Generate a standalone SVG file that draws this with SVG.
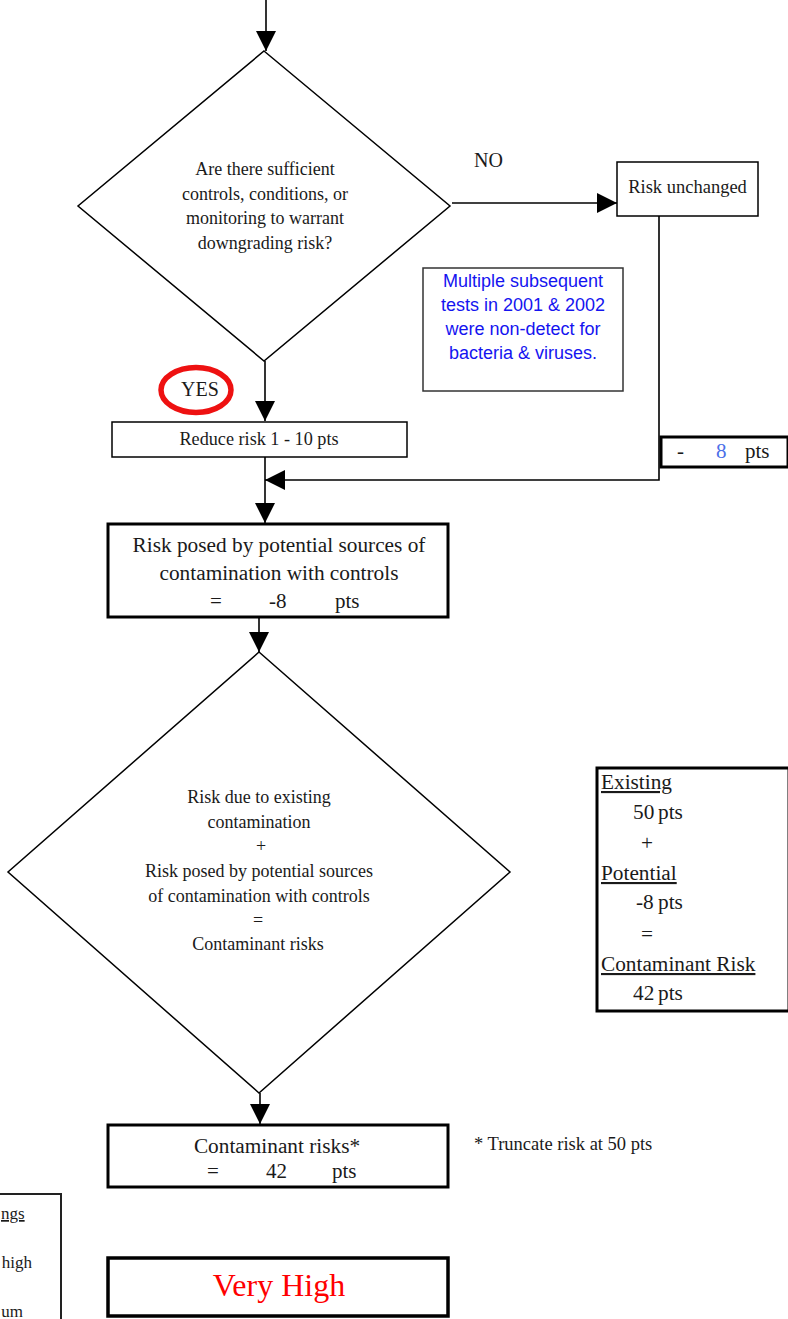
<svg xmlns="http://www.w3.org/2000/svg" width="788" height="1319" viewBox="0 0 788 1319">
<defs>
<marker id="arr" markerUnits="userSpaceOnUse" markerWidth="20" markerHeight="20" refX="20" refY="10" orient="auto" viewBox="0 0 20 20">
<path d="M0,0 L20,10 L0,20 z" fill="#000"/>
</marker>
<style>
.t{font-family:"Liberation Serif","Times New Roman",serif;fill:#1a1a1a}
.s{font-family:"Liberation Sans",Arial,sans-serif;fill:#1414f0}
.thin{fill:#fff;stroke:#000;stroke-width:1.5}
.thick{fill:#fff;stroke:#000;stroke-width:3}
.c{fill:none;stroke:#000;stroke-width:1.6}
.ul{text-decoration:underline}
</style>
</defs>
<rect width="788" height="1319" fill="#fff"/>

<g id="connectors">
<line class="c" x1="266" y1="0" x2="266" y2="51" marker-end="url(#arr)"/>
<line class="c" x1="452" y1="203" x2="617" y2="203" marker-end="url(#arr)"/>
<line class="c" x1="265" y1="361" x2="265" y2="421" marker-end="url(#arr)"/>
<line class="c" x1="265" y1="457" x2="265" y2="523" marker-end="url(#arr)"/>
<polyline class="c" points="659,216 659,480 265,480" marker-end="url(#arr)"/>
<line class="c" x1="259" y1="618" x2="259" y2="652" marker-end="url(#arr)"/>
<line class="c" x1="260" y1="1093" x2="260" y2="1124" marker-end="url(#arr)"/>
</g>

<g id="decision1">
<polygon class="thin" points="264,51 450,206 264,361 78,206"/>
<text class="t" font-size="18" text-anchor="middle" x="265" y="175">Are there sufficient</text>
<text class="t" font-size="18" text-anchor="middle" x="265" y="199.5">controls, conditions, or</text>
<text class="t" font-size="18" text-anchor="middle" x="265" y="224">monitoring to warrant</text>
<text class="t" font-size="18" text-anchor="middle" x="265" y="248.5">downgrading risk?</text>
</g>

<g id="label-no">
<text class="t" font-size="20" x="474" y="167">NO</text>
</g>

<g id="risk-unchanged">
<rect class="thin" x="617" y="162" width="141" height="54"/>
<text class="t" font-size="18.5" text-anchor="middle" x="687.5" y="193">Risk unchanged</text>
</g>

<g id="note">
<rect fill="#fff" stroke="#333" stroke-width="1.5" x="423" y="268" width="200" height="123"/>
<text class="s" font-size="18" text-anchor="middle" x="523" y="287">Multiple subsequent</text>
<text class="s" font-size="18" text-anchor="middle" x="523" y="311">tests in 2001 &amp; 2002</text>
<text class="s" font-size="18" text-anchor="middle" x="523" y="335">were non-detect for</text>
<text class="s" font-size="18" text-anchor="middle" x="523" y="359">bacteria &amp; viruses.</text>
</g>

<g id="label-yes">
<ellipse cx="196" cy="390" rx="35" ry="22.5" fill="none" stroke="#ee1111" stroke-width="5.5"/>
<text class="t" font-size="20" text-anchor="middle" x="200" y="396">YES</text>
</g>

<g id="reduce">
<rect class="thin" x="112" y="422" width="295" height="35"/>
<text class="t" font-size="18.2" text-anchor="middle" x="259" y="445">Reduce risk 1 - 10 pts</text>
</g>

<g id="minus8">
<rect class="thick" x="661" y="437" width="127" height="30"/>
<text class="t" font-size="21" x="677" y="458">-</text>
<text class="t" font-size="21" x="716" y="458" style="fill:#4b6fe8">8</text>
<text class="t" font-size="21" x="745" y="458">pts</text>
</g>

<g id="potential-box">
<rect class="thick" x="108" y="524" width="340" height="93"/>
<text class="t" font-size="21.3" text-anchor="middle" x="279" y="552">Risk posed by potential sources of</text>
<text class="t" font-size="21.3" text-anchor="middle" x="279" y="580">contamination with controls</text>
<text class="t" font-size="21" x="210" y="608">=</text>
<text class="t" font-size="21" x="269" y="608">-8</text>
<text class="t" font-size="21" x="335" y="608">pts</text>
</g>

<g id="decision2">
<polygon class="thin" points="259,652 510,872 259,1093 8,872"/>
<text class="t" font-size="18" text-anchor="middle" x="259" y="803">Risk due to existing</text>
<text class="t" font-size="18" text-anchor="middle" x="259" y="827.5">contamination</text>
<text class="t" font-size="18" text-anchor="middle" x="261" y="852">+</text>
<text class="t" font-size="18" text-anchor="middle" x="259" y="877">Risk posed by potential sources</text>
<text class="t" font-size="18" text-anchor="middle" x="259" y="901.5">of contamination with controls</text>
<text class="t" font-size="18" text-anchor="middle" x="258" y="925.5">=</text>
<text class="t" font-size="18" text-anchor="middle" x="258" y="950">Contaminant risks</text>
</g>

<g id="summary">
<rect class="thick" x="597" y="768" width="192" height="243"/>
<text class="t ul" font-size="21.3" x="601" y="789">Existing</text>
<text class="t" font-size="21.3" x="633" y="819">50</text>
<text class="t" font-size="21.3" x="658" y="819">pts</text>
<text class="t" font-size="21.3" x="641" y="850">+</text>
<text class="t ul" font-size="21.3" x="601" y="880">Potential</text>
<text class="t" font-size="21.3" x="636" y="909">-8</text>
<text class="t" font-size="21.3" x="658" y="909">pts</text>
<text class="t" font-size="21.3" x="641" y="941">=</text>
<text class="t ul" font-size="21.3" x="601" y="971">Contaminant Risk</text>
<text class="t" font-size="21.3" x="633" y="1000">42</text>
<text class="t" font-size="21.3" x="658" y="1000">pts</text>
</g>

<g id="contaminant-risks">
<rect class="thick" x="108" y="1125" width="340" height="62"/>
<text class="t" font-size="21.3" text-anchor="middle" x="277" y="1153">Contaminant risks*</text>
<text class="t" font-size="21" x="207" y="1178">=</text>
<text class="t" font-size="21" x="266" y="1178">42</text>
<text class="t" font-size="21" x="332" y="1178">pts</text>
</g>

<g id="footnote">
<text class="t" font-size="18.5" x="474" y="1150">* Truncate risk at 50 pts</text>
</g>

<g id="legend">
<rect fill="#fff" stroke="#222" stroke-width="2" x="-10" y="1194" width="71" height="140"/>
<text class="t ul" font-size="17" x="1" y="1219">ngs</text>
<text class="t" font-size="17" x="32" y="1268" text-anchor="end">high</text>
<text class="t" font-size="17" x="23" y="1317" text-anchor="end">um</text>
</g>

<g id="rating">
<rect fill="#fff" stroke="#000" stroke-width="3.5" x="108" y="1258" width="340" height="58"/>
<text font-family="Liberation Serif, Times New Roman, serif" font-size="32" fill="#ff0000" text-anchor="middle" x="279" y="1296">Very High</text>
</g>
</svg>
